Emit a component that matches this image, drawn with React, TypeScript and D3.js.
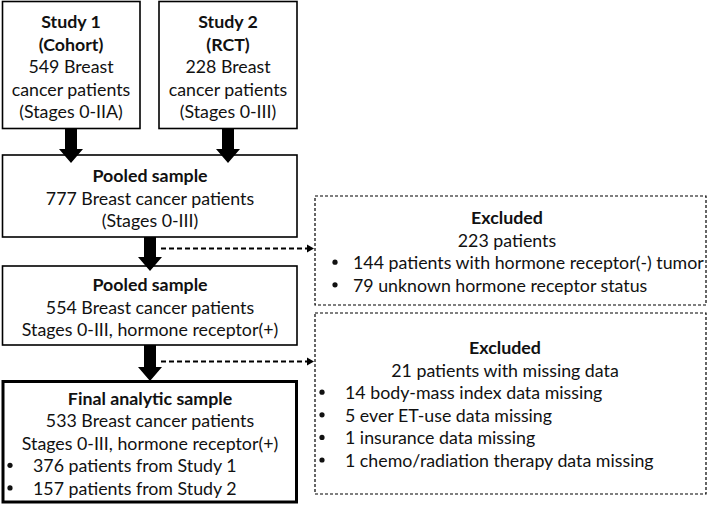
import React from "react";
import * as d3 from "d3";

// ---- content ----
const study1Lines = ["Study 1", "(Cohort)", "549 Breast", "cancer patients", "(Stages 0-IIA)"];
const study2Lines = ["Study 2", "(RCT)", "228 Breast", "cancer patients", "(Stages 0-III)"];
const pooled1Lines = ["Pooled sample", "777 Breast cancer patients", "(Stages 0-III)"];
const pooled2Lines = ["Pooled sample", "554 Breast cancer patients", "Stages 0-III, hormone receptor(+)"];
const finalLines = ["Final analytic sample", "533 Breast cancer patients", "Stages 0-III, hormone receptor(+)"];
const finalBullets = ["376 patients from Study 1", "157 patients from Study 2"];
const excl1Lines = ["Excluded", "223 patients"];
const excl1Bullets = ["144 patients with hormone receptor(-) tumor", "79 unknown hormone receptor status"];
const excl2Lines = ["Excluded", "21 patients with missing data"];
const excl2Bullets = [
  "14 body-mass index data missing",
  "5 ever ET-use data missing",
  "1 insurance data missing",
  "1 chemo/radiation therapy data missing",
];

const W = 708;
const H = 505;
const FONT = "Lato, 'Noto Sans', sans-serif";
const FS = 17.8;
const LH = 22.6;

type Box = {
  x0: number; x1: number; y0: number; y1: number;
  lines: string[]; boldCount: number; bullets?: string[];
  firstY: number; cx: number; bulletX?: number; bulletTextX?: number;
  dashed?: boolean; thick?: boolean;
};

const boxes: Box[] = [
  { x0: 2.5, x1: 140, y0: 1.5, y1: 128.5, lines: study1Lines, boldCount: 2, firstY: 21, cx: 71 },
  { x0: 159, x1: 297, y0: 1.5, y1: 128.5, lines: study2Lines, boldCount: 2, firstY: 21, cx: 228 },
  { x0: 2.5, x1: 297, y0: 155, y1: 237, lines: pooled1Lines, boldCount: 1, firstY: 175, cx: 150 },
  { x0: 2.5, x1: 297, y0: 266, y1: 345, lines: pooled2Lines, boldCount: 1, firstY: 284, cx: 150 },
  { x0: 3, x1: 296.5, y0: 381.5, y1: 502, lines: finalLines, boldCount: 1, bullets: finalBullets, firstY: 397.5, cx: 150, bulletX: 10, bulletTextX: 33, thick: true },
  { x0: 315, x1: 706, y0: 196, y1: 305, lines: excl1Lines, boldCount: 1, bullets: excl1Bullets, firstY: 217, cx: 507, bulletX: 335, bulletTextX: 353, dashed: true },
  { x0: 315, x1: 706, y0: 313, y1: 494, lines: excl2Lines, boldCount: 1, bullets: excl2Bullets, firstY: 347, cx: 505, bulletX: 322, bulletTextX: 345, dashed: true },
];

// solid arrows [x, yStart, yTip]
const solidArrows: [number, number, number][] = [
  [71, 128, 163],
  [228, 128, 163],
  [150, 237, 271],
  [150, 345, 381],
];
// dashed arrows [y, xStart, xTip]
const dashedArrows: [number, number, number][] = [
  [248.5, 161, 314],
  [361.5, 161, 314],
];

function blockArrow(x: number, y0: number, y1: number) {
  const sw = 6, hw = 12, hh = 14;
  const p = d3.path();
  p.moveTo(x - sw, y0);
  p.lineTo(x + sw, y0);
  p.lineTo(x + sw, y1 - hh);
  p.lineTo(x + hw, y1 - hh);
  p.lineTo(x, y1);
  p.lineTo(x - hw, y1 - hh);
  p.lineTo(x - sw, y1 - hh);
  p.closePath();
  return p.toString();
}

export default function App() {
  return (
    <svg width={W} height={H} style={{ position: "absolute", left: 0, top: 0, background: "#fff" }}>
      <rect x={0} y={0} width={W} height={H} fill="#fff" />
      {boxes.map((b, i) => (
        <g key={i}>
          <rect
            x={b.x0}
            y={b.y0}
            width={b.x1 - b.x0}
            height={b.y1 - b.y0}
            fill="#fff"
            stroke="#000"
            strokeWidth={b.thick ? 3 : b.dashed ? 1.2 : 1.6}
            strokeDasharray={b.dashed ? "3 2" : undefined}
          />
          {b.lines.map((t, j) => (
            <text
              key={j}
              x={b.cx}
              y={b.firstY + j * LH}
              textAnchor="middle"
              dominantBaseline="central"
              fontFamily={FONT}
              fontSize={FS}
              fontWeight={j < b.boldCount ? "bold" : "normal"}
              fill="#111"
            >
              {t}
            </text>
          ))}
          {(b.bullets || []).map((t, j) => {
            const y = b.firstY + (b.lines.length + j) * LH;
            return (
              <g key={"b" + j}>
                <circle cx={b.bulletX} cy={y} r={2.6} fill="#111" />
                <text x={b.bulletTextX} y={y} dominantBaseline="central" fontFamily={FONT} fontSize={FS} fill="#111">
                  {t}
                </text>
              </g>
            );
          })}
        </g>
      ))}
      {solidArrows.map(([x, y0, y1], i) => (
        <path key={"a" + i} d={blockArrow(x, y0, y1)} fill="#000" />
      ))}
      {dashedArrows.map(([y, x0, x1], i) => (
        <g key={"d" + i}>
          <line x1={x0} y1={y} x2={x1 - 6} y2={y} stroke="#000" strokeWidth={2} strokeDasharray="5 3" />
          <path d={`M${x1 - 7},${y - 4} L${x1},${y} L${x1 - 7},${y + 4} Z`} fill="#000" />
        </g>
      ))}
    </svg>
  );
}
